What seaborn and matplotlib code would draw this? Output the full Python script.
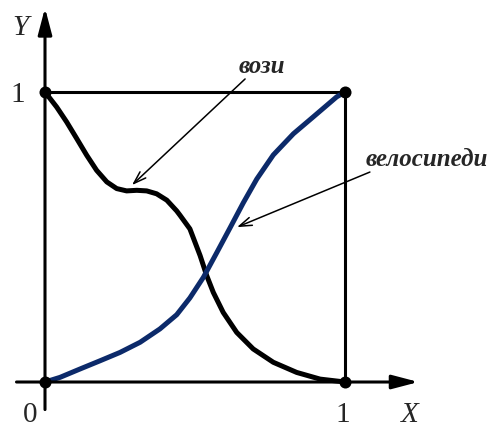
import pandas as pd
import seaborn as sns
import matplotlib.pyplot as plt

# curve "вози" (black)
vozi_x = [0, 0.039, 0.072, 0.106, 0.139, 0.172, 0.206, 0.239, 0.272, 0.306, 0.339,
          0.372, 0.406, 0.439, 0.45, 0.483, 0.517, 0.539, 0.561, 0.594, 0.639,
          0.694, 0.761, 0.839, 0.917, 1.0]
vozi_y = [1.0, 0.948, 0.897, 0.839, 0.782, 0.730, 0.690, 0.667, 0.659, 0.661, 0.659,
          0.649, 0.627, 0.590, 0.575, 0.528, 0.436, 0.367, 0.309, 0.240, 0.171,
          0.114, 0.068, 0.033, 0.010, 0.0]

# curve "велосипеди" (blue)
velo_x = [0, 0.05, 0.117, 0.183, 0.25, 0.317, 0.383, 0.439, 0.483, 0.528, 0.572,
          0.617, 0.661, 0.706, 0.761, 0.828, 0.894, 0.972, 1.0]
velo_y = [0, 0.016, 0.045, 0.073, 0.102, 0.137, 0.183, 0.232, 0.290, 0.361, 0.445,
          0.532, 0.618, 0.700, 0.783, 0.856, 0.914, 0.983, 1.0]

corner_x = [0, 1, 0, 1]
corner_y = [0, 0, 1, 1]

df = pd.concat([
    pd.DataFrame({'x': vozi_x, 'y': vozi_y, 'curve': 'вози'}),
    pd.DataFrame({'x': velo_x, 'y': velo_y, 'curve': 'велосипеди'}),
])

sns.set_style('white')
plt.rcParams['font.family'] = ['Liberation Serif', 'DejaVu Serif']

fig = plt.figure(figsize=(4.95, 4.27), dpi=100)
ax = fig.add_axes([0, 0, 1, 1])

sns.lineplot(data=df, x='x', y='y', hue='curve', sort=False, estimator=None,
             palette={'вози': 'black', 'велосипеди': '#0c2a6a'},
             linewidth=3.6, legend=False, ax=ax, zorder=3,
             solid_joinstyle='round', solid_capstyle='round')

# square frame
ax.plot([0, 1], [1, 1], color='black', lw=2.2, zorder=2)
ax.plot([1, 1], [0, 1], color='black', lw=2.2, zorder=2)

# axes with arrows
axis_arrow = dict(arrowstyle='-|>,head_length=1.6,head_width=0.42',
                  color='black', lw=2.2, shrinkA=0, shrinkB=0)
ax.annotate('', xy=(1.245, 0), xytext=(-0.095, 0), arrowprops=axis_arrow)
ax.annotate('', xy=(0, 1.29), xytext=(0, -0.095), arrowprops=axis_arrow)

sns.scatterplot(x=corner_x, y=corner_y, color='black', s=75, linewidth=0,
                ax=ax, zorder=5)

# annotations
note_arrow = dict(arrowstyle='->,head_length=0.9,head_width=0.3',
                  color='black', lw=1.1, shrinkA=0, shrinkB=0)
ax.annotate('', xy=(0.29, 0.679), xytext=(0.667, 1.045), arrowprops=note_arrow)
ax.text(0.723, 1.093, 'вози', fontsize=18, style='italic', fontweight='bold',
        ha='center', va='center')
ax.annotate('', xy=(0.64, 0.534), xytext=(1.083, 0.724), arrowprops=note_arrow)
ax.text(1.07, 0.772, 'велосипеди', fontsize=18, style='italic', fontweight='bold',
        ha='left', va='center')

# axis labels and ticks
ax.text(-0.083, 1.224, 'Y', fontsize=21, style='italic', ha='center', va='center')
ax.text(1.217, -0.112, 'X', fontsize=21, style='italic', ha='center', va='center')
ax.text(-0.09, 0.993, '1', fontsize=21, ha='center', va='center')
ax.text(-0.05, -0.112, '0', fontsize=21, ha='center', va='center')
ax.text(0.993, -0.112, '1', fontsize=21, ha='center', va='center')

ax.set_xlim(-0.15, 1.5)
ax.set_ylim(-0.1517, 1.3207)
ax.axis('off')

fig.savefig('out.png', dpi=100)
